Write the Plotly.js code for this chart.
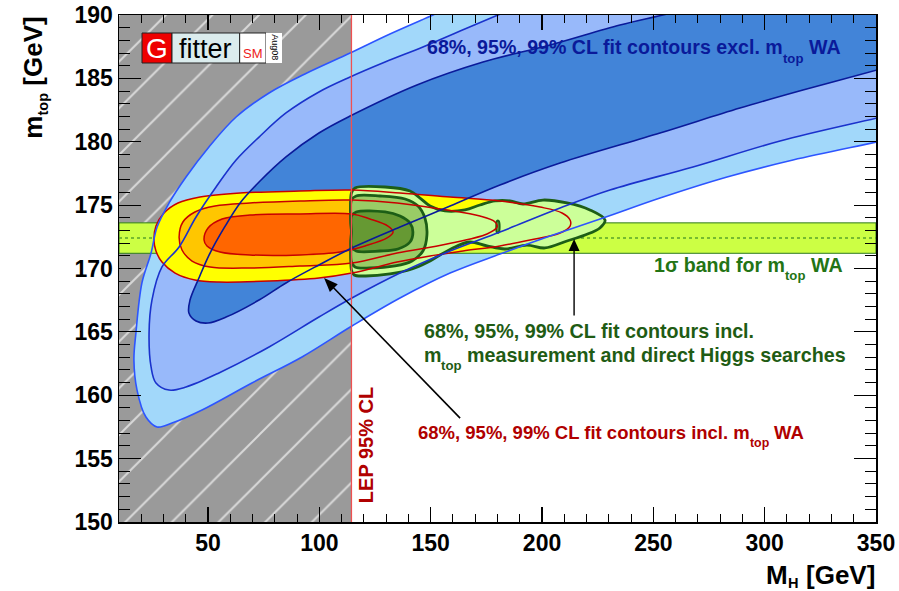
<!DOCTYPE html>
<html>
<head>
<meta charset="utf-8">
<script src="https://cdn.plot.ly/plotly-3.0.1.min.js"></script>
<style>
html, body { margin: 0; padding: 0; background: #fff; }
#chart { width: 899px; height: 591px; }
</style>
</head>
<body>
<div id="chart"></div>
<script>
// Axis ranges (M_H and m_top, GeV)
const mhRange = [10, 350];
const mtopRange = [150, 190];

// LEP direct search lower bound on M_H (95% CL)
const lepLimit = 114.4;

// World average top mass and its 1 sigma uncertainty
const mtopWA = 172.4;
const mtopWAErr = 1.2;

// Fit without the m_top measurement: 99%, 95%, 68% CL regions
// (points beyond the frame close each open region outside the axes)
const blue99MH = [176, 151.0, 131.7, 113.8, 93.5, 77.4, 62.6, 50.4, 40.1, 32.5, 27.1, 24.4, 20.3, 17.6, 16.7, 18.1, 22.1, 27.1, 33.8, 47.3, 69.7, 92.2, 114.6, 136.2, 158.7, 181.1, 203.6, 227.4, 253.0, 283.1, 312.7, 350.4, 372, 372];
const blue99Mt = [192, 190, 188.50, 187.00, 185.35, 183.85, 181.95, 179.59, 177.22, 175.17, 173.27, 171.22, 168.86, 164.91, 162.78, 160.41, 158.28, 157.50, 157.81, 158.84, 160.97, 163.02, 165.46, 167.67, 169.64, 171.14, 172.56, 173.98, 175.56, 177.22, 178.56, 179.98, 180.8, 193];

const blue95MH = [207, 180.2, 163.2, 146.5, 129.5, 113.8, 99.8, 85.0, 72.9, 62.6, 53.6, 44.6, 37.0, 29.3, 24.8, 23.5, 24.4, 26.6, 32.5, 40.1, 54.9, 77.4, 99.8, 114.6, 136.2, 158.7, 181.1, 208.1, 230.5, 267.8, 306.9, 350.4, 372, 372];
const blue95Mt = [192, 190, 188.74, 187.48, 186.29, 185.11, 183.93, 182.27, 180.37, 178.56, 176.43, 174.06, 171.70, 170.12, 167.51, 164.91, 162.23, 160.97, 160.41, 160.65, 161.76, 163.81, 166.17, 167.67, 169.64, 171.38, 172.88, 174.77, 176.19, 178.01, 180.06, 181.87, 182.77, 194];

const blue68MH = [303, 254.3, 235.0, 203.6, 173.5, 143.8, 113.8, 99.8, 85.0, 72.9, 64.4, 57.2, 50.9, 45.9, 41.9, 41.4, 44.6, 50.0, 58.1, 72.9, 85.0, 99.8, 114.6, 136.2, 158.7, 181.1, 208.1, 253.0, 288.9, 317.2, 350.4, 372, 372];
const blue68Mt = [192, 190, 189.21, 187.63, 186.29, 184.48, 182.03, 180.69, 178.80, 176.82, 175.17, 173.20, 171.22, 169.25, 167.51, 166.49, 165.86, 165.70, 166.17, 167.51, 168.86, 170.28, 171.62, 173.27, 174.93, 176.59, 178.32, 180.69, 182.66, 184.08, 185.66, 186.68, 194];

// Fit including the m_top world average: 99%, 95%, 68% CL contours
const red99MH = [91.3, 114.6, 136.2, 158.7, 181.1, 199.1, 209.0, 212.6, 212.6, 208.1, 194.6, 181.1, 164.5, 149.7, 134.9, 114.6, 99.8, 77.4, 54.9, 44.1, 35.2, 29.3, 26.6, 25.7, 26.6, 30.2, 36.5, 46.4, 64.4];
const red99Mt = [176.11, 176.19, 175.96, 175.64, 175.33, 174.85, 174.38, 173.83, 173.35, 172.80, 172.25, 171.78, 171.38, 170.99, 170.51, 169.64, 169.25, 169.01, 168.93, 169.09, 169.64, 170.51, 171.38, 172.25, 173.35, 174.38, 175.17, 175.64, 175.96];

const red95MH = [91.3, 114.6, 134.9, 157.3, 172.1, 178.9, 179.8, 175.3, 157.3, 134.9, 114.6, 91.3, 68.8, 50.9, 42.8, 38.3, 37.0, 38.7, 44.1, 53.1, 68.8];
const red95Mt = [175.33, 175.40, 175.17, 174.62, 174.14, 173.67, 173.27, 172.72, 171.93, 171.22, 170.43, 170.20, 170.04, 170.12, 170.59, 171.46, 172.48, 173.67, 174.46, 174.93, 175.17];

const red68MH = [91.3, 114.6, 122.7, 130.8, 133.1, 130.4, 120.5, 109.3, 91.3, 68.8, 55.4, 49.5, 48.2, 50.0, 56.3, 68.8];
const red68Mt = [174.30, 174.30, 173.91, 173.35, 172.88, 172.41, 171.78, 171.30, 171.07, 171.07, 171.30, 171.78, 172.25, 173.20, 173.91, 174.22];

// Fit including m_top and the direct Higgs searches: 99%, 95%, 68% CL contours
const green99MH = [114.4, 114.4, 116.0, 129.5, 140.7, 145.2, 149.7, 156.4, 165.4, 172.1, 178.9, 185.6, 191.5, 200.4, 211.2, 221.5, 228.3, 226.0, 219.3, 211.2, 201.3, 193.2, 183.4, 175.3, 167.6, 160.9, 154.2, 148.8, 141.6, 131.7, 120.5, 115.6, 114.4];
const green99Mt = [172.9, 175.96, 176.35, 176.43, 176.11, 175.56, 174.93, 174.54, 174.62, 175.01, 175.33, 175.33, 175.09, 175.40, 175.17, 174.62, 173.83, 173.20, 172.64, 172.17, 171.62, 171.85, 171.54, 171.78, 172.09, 171.70, 171.07, 170.51, 169.96, 169.57, 169.41, 169.49, 169.88];

const green95MH = [114.4, 114.4, 116.5, 127.2, 138.5, 144.3, 147.4, 148.3, 146.5, 141.6, 134.0, 122.7, 116.0, 114.4];
const green95Mt = [172.9, 175.40, 175.72, 175.72, 175.48, 174.93, 173.98, 172.64, 171.38, 170.59, 170.20, 170.04, 170.12, 170.51];

const green95bMH = [179.8, 180.5, 180.9, 180.5, 179.8, 179.5];
const green95bMt = [173.75, 173.75, 173.3, 172.85, 172.85, 173.3];

const green68MH = [114.4, 114.4, 116.5, 129.5, 136.2, 140.7, 142.0, 140.7, 135.3, 127.2, 116.5, 114.4];
const green68Mt = [172.9, 174.14, 174.46, 174.46, 174.14, 173.59, 172.88, 172.09, 171.54, 171.38, 171.38, 171.70];

// ---------------------------------------------------------------
const W = 899, H = 591;
const margin = { l: 119, r: 23, t: 15, b: 69, pad: 0 };
const plotW = W - margin.l - margin.r;
const plotH = H - margin.t - margin.b;
const pxPerMH = plotW / (mhRange[1] - mhRange[0]);
const pxPerMt = plotH / (mtopRange[1] - mtopRange[0]);

const closeLoop = a => a.concat([a[0]]);

function area(x, y, fillcolor, lineColor, lineWidth, closed) {
  return {
    type: 'scatter', mode: 'lines',
    x: closed ? closeLoop(x) : x,
    y: closed ? closeLoop(y) : y,
    fill: 'toself', fillcolor: fillcolor,
    line: { color: lineColor || fillcolor, width: lineWidth || 0, shape: 'spline', smoothing: 1 },
    hoverinfo: 'skip'
  };
}

function outline(x, y, color, width, closed) {
  return {
    type: 'scatter', mode: 'lines',
    x: closed ? closeLoop(x) : x,
    y: closed ? closeLoop(y) : y,
    line: { color: color, width: width, shape: 'spline', smoothing: 1 },
    hoverinfo: 'skip'
  };
}

const bandLo = mtopWA - mtopWAErr;
const bandHi = mtopWA + mtopWAErr;

const traces = [
  // M_H region excluded by LEP (hatched)
  {
    type: 'scatter', mode: 'lines',
    x: [mhRange[0], lepLimit, lepLimit, mhRange[0], mhRange[0]],
    y: [mtopRange[0], mtopRange[0], mtopRange[1], mtopRange[1], mtopRange[0]],
    fill: 'toself', fillcolor: '#9a9a9a',
    fillpattern: { shape: '/', bgcolor: '#9a9a9a', fgcolor: '#d9d9d9', size: 33, solidity: 0.06 },
    line: { width: 0 }, hoverinfo: 'skip'
  },
  // Fit excluding m_top
  area(blue99MH, blue99Mt, '#a2d8fa'),
  area(blue95MH, blue95Mt, '#98b9fa'),
  area(blue68MH, blue68Mt, '#4284d8'),
  // m_top world average band
  {
    type: 'scatter', mode: 'lines',
    x: [mhRange[0], mhRange[1], mhRange[1], mhRange[0], mhRange[0]],
    y: [bandLo, bandLo, bandHi, bandHi, bandLo],
    fill: 'toself', fillcolor: '#ccff44',
    line: { color: '#2f7a1f', width: 1 }, hoverinfo: 'skip'
  },
  {
    type: 'scatter', mode: 'lines',
    x: mhRange, y: [mtopWA, mtopWA],
    line: { color: '#5aa52a', width: 1.5, dash: 'dot' }, hoverinfo: 'skip'
  },
  // Fit including m_top
  area(red99MH, red99Mt, '#ffff00', null, 0, true),
  area(red95MH, red95Mt, '#ffc600', null, 0, true),
  area(red68MH, red68Mt, '#ff6600', null, 0, true),
  // Fit including m_top and direct Higgs searches
  area(green99MH, green99Mt, '#ccff99', '#1d5e16', 2.8, true),
  area(green95MH, green95Mt, '#99cc66', '#1d5e16', 2.8, true),
  area(green95bMH, green95bMt, '#99cc66', '#1d5e16', 2.2, true),
  area(green68MH, green68Mt, '#669933', '#1d5e16', 2.8, true),
  // contour lines drawn on top
  outline(red99MH, red99Mt, '#c80000', 1.5, true),
  outline(red95MH, red95Mt, '#c80000', 1.5, true),
  outline(red68MH, red68Mt, '#c80000', 1.5, true),
  outline(blue99MH, blue99Mt, '#2d55ff', 1.6, false),
  outline(blue95MH, blue95Mt, '#1a32cc', 1.6, false),
  outline(blue68MH, blue68Mt, '#0a1a9a', 1.6, false),
  // LEP bound
  {
    type: 'scatter', mode: 'lines',
    x: [lepLimit, lepLimit], y: mtopRange,
    line: { color: '#f05050', width: 1.3 }, hoverinfo: 'skip'
  }
];

// ---------------------------------------------------------------
// Text helpers: labels with subscripts are laid out run by run
const baseFont = 'Liberation Sans, Arial, Helvetica, sans-serif';
const boldFont = (size, color) => ({ family: baseFont, size: size, color: color, weight: 'bold' });
const plainFont = (size, color) => ({ family: baseFont, size: size, color: color });

const measureCtx = document.createElement('canvas').getContext('2d');
function textWidth(str, size) {
  measureCtx.font = 'bold ' + size + 'px "Liberation Sans", Arial, sans-serif';
  return measureCtx.measureText(str).width;
}
const MID = (0.905 - 0.212) / 2;   // box centre above the baseline, in em

function richLabel(runs, o) {
  const items = runs.map(r => {
    const s = r.sub ? o.size * o.subScale : o.size;
    return {
      t: r.t, s: s, w: textWidth(r.t, s),
      gap: r.space ? textWidth(' ', o.size) : 0,
      drop: r.sub ? o.size * o.subDrop : 0
    };
  });
  const total = items.reduce((a, it) => a + it.gap + it.w, 0);
  let cursor = o.align === 'end' ? -total : 0;
  return items.map(it => {
    cursor += it.gap;
    const c = cursor + it.w / 2;
    cursor += it.w;
    const across = MID * it.s - it.drop;
    const a = {
      xref: o.xref, yref: o.yref, x: o.x, y: o.y,
      xanchor: 'center', yanchor: 'middle', showarrow: false,
      text: it.t, font: boldFont(it.s, o.color)
    };
    if (o.vertical) { a.textangle = -90; a.yshift = c; a.xshift = -across; }
    else { a.xshift = c; a.yshift = across; }
    return a;
  });
}

// Arrow built from a line and a filled head (head size in pixels)
function arrow(tail, head, len, halfW, width) {
  const dx = (head[0] - tail[0]) * pxPerMH;
  const dy = (head[1] - tail[1]) * pxPerMt;
  const L = Math.hypot(dx, dy);
  const ux = dx / L, uy = dy / L;
  const bx = -len * ux, by = -len * uy;
  const nx = -uy * halfW, ny = ux * halfW;
  return [
    { type: 'line', xref: 'x', yref: 'y', layer: 'above',
      x0: tail[0], y0: tail[1],
      x1: head[0] + 0.6 * bx / pxPerMH, y1: head[1] + 0.6 * by / pxPerMt,
      line: { color: '#000', width: width } },
    { type: 'path', xref: 'x', yref: 'y', layer: 'above',
      xsizemode: 'pixel', ysizemode: 'pixel', xanchor: head[0], yanchor: head[1],
      path: 'M0,0 L' + (bx + nx).toFixed(2) + ',' + (by + ny).toFixed(2) +
            ' L' + (bx - nx).toFixed(2) + ',' + (by - ny).toFixed(2) + ' Z',
      fillcolor: '#000', line: { width: 0 } }
  ];
}

const annotations = [].concat(
  // axis titles
  richLabel([{ t: 'm' }, { t: 'top', sub: true }, { t: '[GeV]', space: true }],
    { xref: 'paper', yref: 'paper', x: (42 - margin.l) / plotW, y: 1 - 1 / plotH, size: 26,
      subScale: 0.56, subDrop: 0.22, color: '#000', align: 'end', vertical: true }),
  richLabel([{ t: 'M' }, { t: 'H', sub: true }, { t: '[GeV]', space: true }],
    { xref: 'paper', yref: 'paper', x: 1 - 1 / plotW, y: -(584 - margin.t - plotH) / plotH, size: 26,
      subScale: 0.56, subDrop: 0.15, color: '#000', align: 'end' }),
  // contour labels
  richLabel([{ t: '68%, 95%, 99% CL fit contours excl. m' }, { t: 'top', sub: true }, { t: 'WA', space: true }],
    { xref: 'x', yref: 'y', x: 148.3, y: 186.9, size: 19.6, subScale: 0.67, subDrop: 0.45,
      color: '#0a1a9a', align: 'start' }),
  richLabel([{ t: '1σ band for m' }, { t: 'top', sub: true }, { t: 'WA', space: true }],
    { xref: 'x', yref: 'y', x: 334.9, y: 169.75, size: 19.6, subScale: 0.67, subDrop: 0.42,
      color: '#237414', align: 'end' }),
  richLabel([{ t: '68%, 95%, 99% CL fit contours incl.' }],
    { xref: 'x', yref: 'y', x: 147.0, y: 164.57, size: 19.7, color: '#1f5c14', align: 'start' }),
  richLabel([{ t: 'm' }, { t: 'top', sub: true }, { t: 'measurement and direct Higgs searches', space: true }],
    { xref: 'x', yref: 'y', x: 147.0, y: 162.62, size: 19.7, subScale: 0.67, subDrop: 0.42,
      color: '#1f5c14', align: 'start' }),
  richLabel([{ t: '68%, 95%, 99% CL fit contours incl. m' }, { t: 'top', sub: true }, { t: 'WA', space: true }],
    { xref: 'x', yref: 'y', x: 144.3, y: 156.52, size: 18.5, subScale: 0.67, subDrop: 0.45,
      color: '#b00000', align: 'start' }),
  [
    { xref: 'x', yref: 'y', x: 120.7, y: 156.1, xanchor: 'center', yanchor: 'middle', textangle: -90,
      text: 'LEP 95% CL', showarrow: false, font: boldFont(20, '#b00000') },
    // logo text
    { xref: 'paper', yref: 'paper', x: 0.0502, y: 0.9345, xanchor: 'center', yanchor: 'middle',
      text: 'G', showarrow: false, font: plainFont(28, '#ffffff') },
    { xref: 'paper', yref: 'paper', x: 0.1140, y: 0.9335, xanchor: 'center', yanchor: 'middle',
      text: 'fitter', showarrow: false, font: plainFont(27, '#000') },
    { xref: 'paper', yref: 'paper', x: 0.1766, y: 0.9245, xanchor: 'center', yanchor: 'middle',
      text: 'SM', showarrow: false, font: plainFont(13, '#ee2020') },
    { xref: 'paper', yref: 'paper', x: 0.2050, y: 0.9360, xanchor: 'center', yanchor: 'middle', textangle: 90,
      text: 'Aug08', showarrow: false, font: plainFont(9, '#000') }
  ]
);

const shapes = [
  { type: 'rect', xref: 'paper', yref: 'paper', x0: 0.0304, x1: 0.0700, y0: 0.9053, y1: 0.9645,
    fillcolor: '#ee0000', line: { color: '#222', width: 1 }, layer: 'above' },
  { type: 'rect', xref: 'paper', yref: 'paper', x0: 0.0700, x1: 0.1594, y0: 0.9053, y1: 0.9645,
    fillcolor: '#dbeced', line: { color: '#222', width: 1 }, layer: 'above' },
  { type: 'rect', xref: 'paper', yref: 'paper', x0: 0.1594, x1: 0.1942, y0: 0.9053, y1: 0.9645,
    fillcolor: '#ffffff', line: { color: '#222', width: 1 }, layer: 'above' },
  { type: 'rect', xref: 'paper', yref: 'paper', x0: 0.1942, x1: 0.2153, y0: 0.9053, y1: 0.9645,
    fillcolor: '#ffffff', line: { width: 0 }, layer: 'above' }
].concat(
  arrow([163.2, 158.2], [102.1, 169.25], 14, 5.5, 1.6),
  arrow([214.4, 166.3], [214.4, 172.33], 12, 5.5, 1.4)
);

const layout = {
  width: W, height: H,
  margin: margin,
  paper_bgcolor: '#ffffff', plot_bgcolor: '#ffffff',
  showlegend: false, hovermode: false,
  font: { family: baseFont, color: '#000' },
  xaxis: {
    range: mhRange, tick0: 0, dtick: 50,
    ticks: 'inside', ticklen: 15, tickwidth: 1.2, tickcolor: '#000',
    showline: true, linecolor: '#000', linewidth: 1.5, mirror: 'ticks',
    showgrid: false, zeroline: false, fixedrange: true,
    tickfont: boldFont(23, '#000'),
    minor: { ticks: 'inside', ticklen: 8, dtick: 10, tick0: 0, tickwidth: 1, tickcolor: '#000', showgrid: false }
  },
  yaxis: {
    range: mtopRange, tick0: 150, dtick: 5,
    ticks: 'inside', ticklen: 22, tickwidth: 1.2, tickcolor: '#000',
    showline: true, linecolor: '#000', linewidth: 1.5, mirror: 'ticks',
    showgrid: false, zeroline: false, fixedrange: true,
    tickfont: boldFont(23, '#000'),
    minor: { ticks: 'inside', ticklen: 11, dtick: 1, tick0: 150, tickwidth: 1, tickcolor: '#000', showgrid: false }
  },
  annotations: annotations,
  shapes: shapes
};

Plotly.newPlot('chart', traces, layout, { displayModeBar: false, staticPlot: true });
</script>
</body>
</html>
